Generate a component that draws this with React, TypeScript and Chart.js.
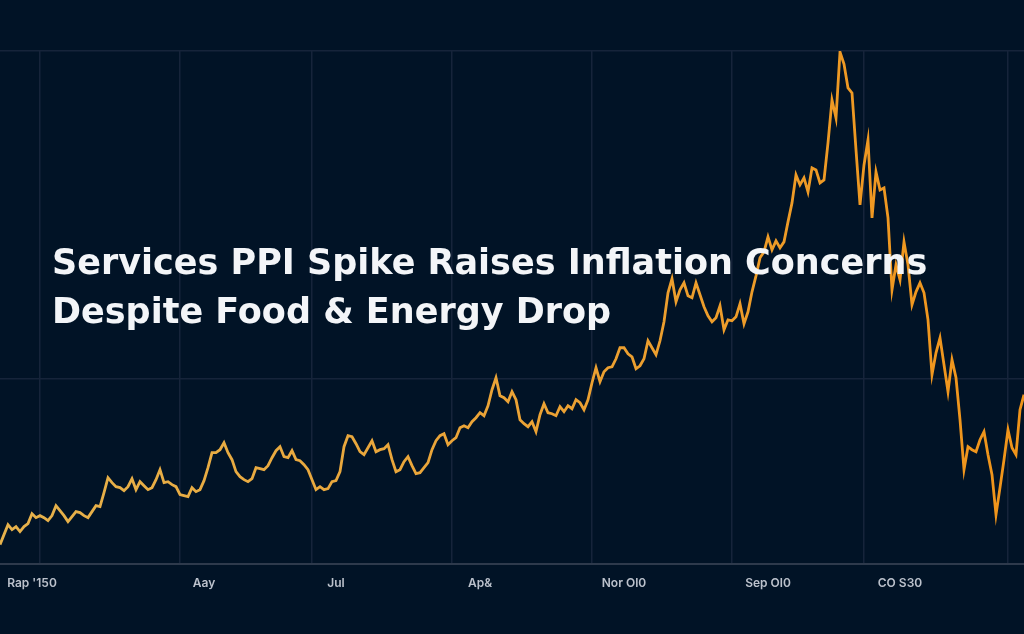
import { useEffect, useRef } from "react";
import { Chart, registerables } from "chart.js";

Chart.register(...registerables);

const titleLines = [
  "Services PPI Spike Raises Inflation Concerns",
  "Despite Food & Energy Drop",
];

const tickLabels = ["Rap '150", "Aay", "Jul", "Ap&", "Nor Ol0", "Sep Ol0", "CO S30"];
const tickAt = [8, 51, 84, 120, 156, 192, 225];
const gridAt = [10, 45, 78, 113, 148, 183, 216, 252];
const yGridValues = [1.85, 5.13];

const servicesPPI = [
  0.19, 0.29, 0.39, 0.34, 0.37, 0.32, 0.37, 0.40, 0.50, 0.46,
  0.48, 0.46, 0.43, 0.48, 0.58, 0.53, 0.48, 0.42, 0.47, 0.52,
  0.51, 0.48, 0.46, 0.52, 0.58, 0.57, 0.71, 0.86, 0.81, 0.77,
  0.76, 0.73, 0.77, 0.85, 0.74, 0.82, 0.78, 0.74, 0.76, 0.84,
  0.94, 0.81, 0.82, 0.79, 0.77, 0.69, 0.68, 0.67, 0.76, 0.72,
  0.74, 0.83, 0.96, 1.11, 1.11, 1.14, 1.21, 1.11, 1.04, 0.92,
  0.87, 0.84, 0.82, 0.85, 0.96, 0.95, 0.94, 0.98, 1.06, 1.13,
  1.17, 1.07, 1.06, 1.13, 1.04, 1.03, 0.99, 0.94, 0.84, 0.74,
  0.77, 0.74, 0.75, 0.82, 0.83, 0.92, 1.17, 1.28, 1.27, 1.20,
  1.12, 1.09, 1.16, 1.23, 1.12, 1.14, 1.15, 1.19, 1.04, 0.92,
  0.94, 1.02, 1.07, 0.98, 0.90, 0.91, 0.96, 1.01, 1.14, 1.23,
  1.28, 1.30, 1.19, 1.23, 1.26, 1.36, 1.38, 1.36, 1.42, 1.46,
  1.51, 1.48, 1.58, 1.74, 1.86, 1.68, 1.66, 1.62, 1.72, 1.64,
  1.44, 1.40, 1.37, 1.42, 1.32, 1.49, 1.60, 1.51, 1.50, 1.48,
  1.57, 1.52, 1.58, 1.55, 1.64, 1.61, 1.54, 1.64, 1.81, 1.96,
  1.82, 1.92, 1.96, 1.97, 2.05, 2.16, 2.16, 2.10, 2.07, 1.95,
  1.98, 2.05, 2.23, 2.16, 2.09, 2.23, 2.42, 2.71, 2.85, 2.62,
  2.74, 2.81, 2.68, 2.66, 2.81, 2.69, 2.57, 2.48, 2.42, 2.46,
  2.58, 2.34, 2.44, 2.43, 2.47, 2.60, 2.40, 2.52, 2.72, 2.88,
  3.06, 3.12, 3.27, 3.14, 3.23, 3.16, 3.22, 3.42, 3.61, 3.89,
  3.79, 3.86, 3.72, 3.96, 3.94, 3.81, 3.84, 4.21, 4.64, 4.46,
  5.12, 5.00, 4.76, 4.71, 4.14, 3.59, 3.99, 4.24, 3.46, 3.92,
  3.74, 3.76, 3.46, 2.74, 2.99, 2.84, 3.22, 2.99, 2.59, 2.72,
  2.81, 2.71, 2.44, 1.89, 2.11, 2.26, 1.99, 1.72, 2.04, 1.86,
  1.44, 0.94, 1.17, 1.14, 1.12, 1.24, 1.32, 1.09, 0.89, 0.49,
  0.76, 1.04, 1.34, 1.16, 1.09, 1.54, 1.69,
];

const BG = "#011326";

export default function App() {
  const ref = useRef<HTMLCanvasElement>(null);

  useEffect(() => {
    document.body.style.margin = "0";
    document.body.style.background = BG;
    const canvas = ref.current;
    if (!canvas) return;
    const chart = new Chart(canvas, {
      type: "line",
      data: {
        labels: servicesPPI.map((_, i) => String(i)),
        datasets: [
          {
            data: servicesPPI,
            borderColor: (ctx: any) => {
              const ch = ctx.chart;
              const area = ch.chartArea;
              if (!area) return "#eaa63a";
              const g = ch.ctx.createLinearGradient(area.left, 0, area.right, 0);
              g.addColorStop(0, "#e6b24c");
              g.addColorStop(0.5, "#eba336");
              g.addColorStop(1, "#f0941a");
              return g;
            },
            borderWidth: 2.8,
            pointRadius: 0,
            pointHoverRadius: 0,
            tension: 0,
            fill: false,
          },
        ],
      },
      options: {
        animation: false,
        responsive: false,
        maintainAspectRatio: false,
        layout: { autoPadding: false, padding: { top: 51, bottom: 43, left: 0, right: 0 } },
        plugins: {
          legend: { display: false },
          tooltip: { enabled: false },
          title: { display: false },
        },
        scales: {
          x: {
            type: "category",
            offset: false,
            grid: {
              color: (c: any) => (gridAt.includes(c.index) ? "#16243a" : "rgba(0,0,0,0)"),
              lineWidth: 1.5,
              drawTicks: true,
              tickLength: 13,
              tickColor: "rgba(0,0,0,0)",
            },
            border: { display: true, color: "#2e3a4c", width: 2 },
            ticks: {
              autoSkip: false,
              maxRotation: 0,
              minRotation: 0,
              padding: 0,
              color: "#bcc2cc",
              font: { family: "Inter", size: 12, weight: 600 },
              callback: (_v: any, i: number) => {
                const k = tickAt.indexOf(i);
                return k >= 0 ? tickLabels[k] : "";
              },
            },
          },
          y: {
            min: 0,
            max: 5.13,
            afterBuildTicks: (axis: any) => {
              axis.ticks = yGridValues.map((v) => ({ value: v }));
            },
            grid: { color: "#16243a", lineWidth: 1.5, drawTicks: false },
            border: { display: false },
            ticks: { display: false, padding: 0 },
          },
        },
      },
    });
    return () => chart.destroy();
  }, []);

  return (
    <div
      style={{
        position: "relative",
        width: 1024,
        height: 634,
        background: BG,
        overflow: "hidden",
      }}
    >
      <canvas ref={ref} width={1024} height={634} style={{ display: "block" }} />
      <div
        style={{
          position: "absolute",
          left: 52,
          top: 238,
          fontFamily: "'DejaVu Sans', sans-serif",
          fontWeight: 700,
          fontSize: 35,
          lineHeight: "49px",
          color: "#f3f5f8",
          whiteSpace: "nowrap",
        }}
      >
        {titleLines.map((t) => (
          <div key={t}>{t}</div>
        ))}
      </div>
    </div>
  );
}
